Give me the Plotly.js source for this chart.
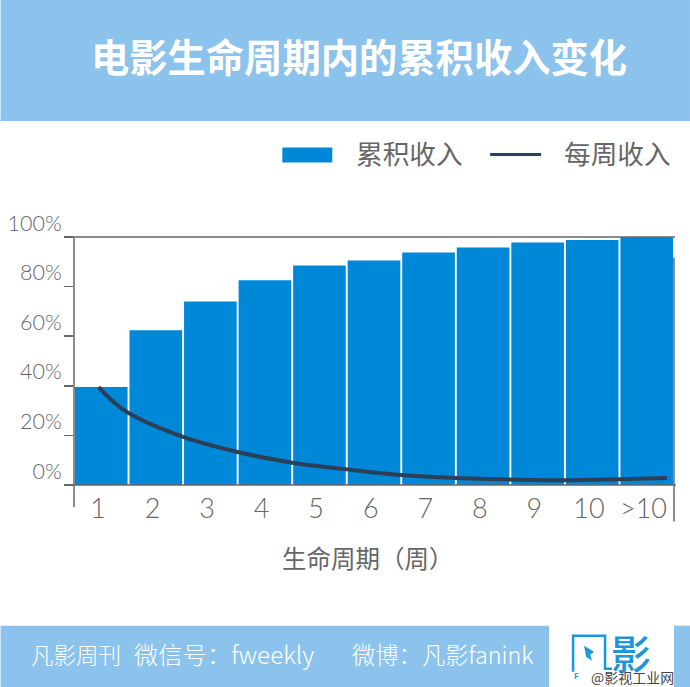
<!DOCTYPE html>
<html><head><meta charset="utf-8">
<script src="https://cdn.plot.ly/plotly-3.0.1.min.js"></script>
<style>html,body{margin:0;padding:0;background:#fff}#c{width:690px;height:687px}</style>
</head><body><div id="c"></div>
<script>
const weeks=[1,2,3,4,5,6,7,8,9,10,11];
const weekLabels=['1','2','3','4','5','6','7','8','9','10','>10'];
const cumulative=[39.5,62.4,74,82.6,88.5,90.5,93.8,95.8,97.8,98.8,100];
const weeklyX=[0.95,1.22,1.5,2.5,3.5,4.5,5.5,6.5,7.5,8.5,9.5,10.5,11.37];
const weekly=[39.5,33.6,29,19.4,13.3,9,6.3,4,2.8,2.2,1.9,2.3,2.8];
const yTicks=[0,20,40,60,80,100];
const yLabels=['0%','20%','40%','60%','80%','100%'];
const CJK='"Noto Sans CJK SC","Noto Sans",sans-serif';
const NUM='Lato,"Noto Sans",sans-serif';
const GREY='#666666',BAND='#8CC3EC',BLUE='#0088D8',NAVY='#2B3F57',LOGO='#1E96DC';
const L=73.5,T=237.3,W=600.5,H=247.4;
const px=x=>(x-L)/W, py=y=>(T+H-y)/H;
const rect=(x0,y0,x1,y1,c)=>({type:'rect',xref:'paper',yref:'paper',x0:px(x0),x1:px(x1),y0:py(y0),y1:py(y1),fillcolor:c,line:{width:0},layer:'below'});
const seg=(x0,y0,x1,y1,c,w)=>({type:'line',xref:'paper',yref:'paper',x0:px(x0),x1:px(x1),y0:py(y0),y1:py(y1),line:{color:c,width:w},layer:'above'});
const txt=(s,x,y,size,color,anchor,weight,extra)=>Object.assign({text:s,xref:'paper',yref:'paper',x:px(x),y:py(y),xanchor:anchor||'left',yanchor:'middle',showarrow:false,font:{family:CJK,size:size,color:color,weight:weight||400}},extra||{});
const shapes=[
 rect(0,0,690,121.5,BAND),
 rect(0,625,549,687,BAND),
 rect(674,625,690,687,BAND),
 seg(65,237.3,675,237.3,GREY,1.5),
 seg(65,484.7,676,484.7,GREY,1.5),
 seg(73.5,237.3,73.5,507,GREY,1.5),
 seg(674,258,674,521,GREY,1.5),
 rect(282,148,332,163,BLUE),
 seg(490,155,541,155,NAVY,3),
 {type:'path',xref:'paper',yref:'paper',layer:'above',line:{color:LOGO,width:2.5},
  path:`M${px(573)},${py(671)} L${px(573)},${py(635)} L${px(605)},${py(635)} L${px(605)},${py(668)} L${px(612)},${py(668)}`},
 {type:'path',xref:'paper',yref:'paper',layer:'above',line:{width:0},fillcolor:LOGO,
  path:`M${px(584)},${py(645)} L${px(594)},${py(651)} L${px(590)},${py(654)} L${px(592)},${py(660)} L${px(586)},${py(656)} Z`}
];
const annotations=[
 txt('累积收入',354,153,26.7,GREY),
 txt('每周收入',561.5,153,26.7,GREY),
 txt('生命周期（周）',279.5,557,24.5,GREY),
 txt('凡影周刊',28,653,22.5,'#fff','left',300),
 txt('微信号：fweekly',132,653,24.3,'#fff','left',300),
 txt('微博：凡影fanink',349.5,653,23.3,'#fff','left',300),
 txt('影',609,651,40,LOGO,'left',500),
 txt('F',572,675,8,LOGO,'left',700),
 txt('@影视工业网',589,676,14,'#444')
];
const data=[
 {type:'bar',name:'累积收入',x:weeks,y:cumulative,width:0.965,marker:{color:BLUE,line:{width:0}},showlegend:false},
 {type:'scatter',mode:'lines',name:'每周收入',x:weeklyX,y:weekly,line:{color:NAVY,width:4,shape:'spline',smoothing:1},showlegend:false}
];
const layout={
 width:690,height:687,margin:{l:L,r:690-L-W,t:T,b:687-T-H,pad:0,autoexpand:false},
 paper_bgcolor:'#fff',plot_bgcolor:'#fff',showlegend:false,
 title:{text:'电影生命周期内的累积收入变化',x:359/690,xref:'container',xanchor:'center',y:1-59/687,yref:'container',yanchor:'middle',
  font:{family:CJK,size:38.3,color:'#fff',weight:700}},
 xaxis:{range:[0.5,11.5],tickmode:'array',tickvals:weeks.map(w=>w-0.06),ticktext:weekLabels,ticks:'',showgrid:false,zeroline:false,showline:false,
  tickfont:{family:NUM,size:27,color:GREY,weight:300},ticklabelstandoff:5,automargin:false},
 yaxis:{range:[0,100],tickmode:'array',tickvals:yTicks,ticktext:yLabels,ticks:'outside',ticklen:9,tickwidth:1.5,tickcolor:GREY,
  showgrid:false,zeroline:false,showline:false,ticklabelshift:-14,ticklabelstandoff:-2,automargin:false,
  tickfont:{family:NUM,size:21.5,color:GREY,weight:300}},
 shapes:shapes,annotations:annotations
};
Plotly.newPlot('c',data,layout,{displayModeBar:false,staticPlot:true});
</script></body></html>
